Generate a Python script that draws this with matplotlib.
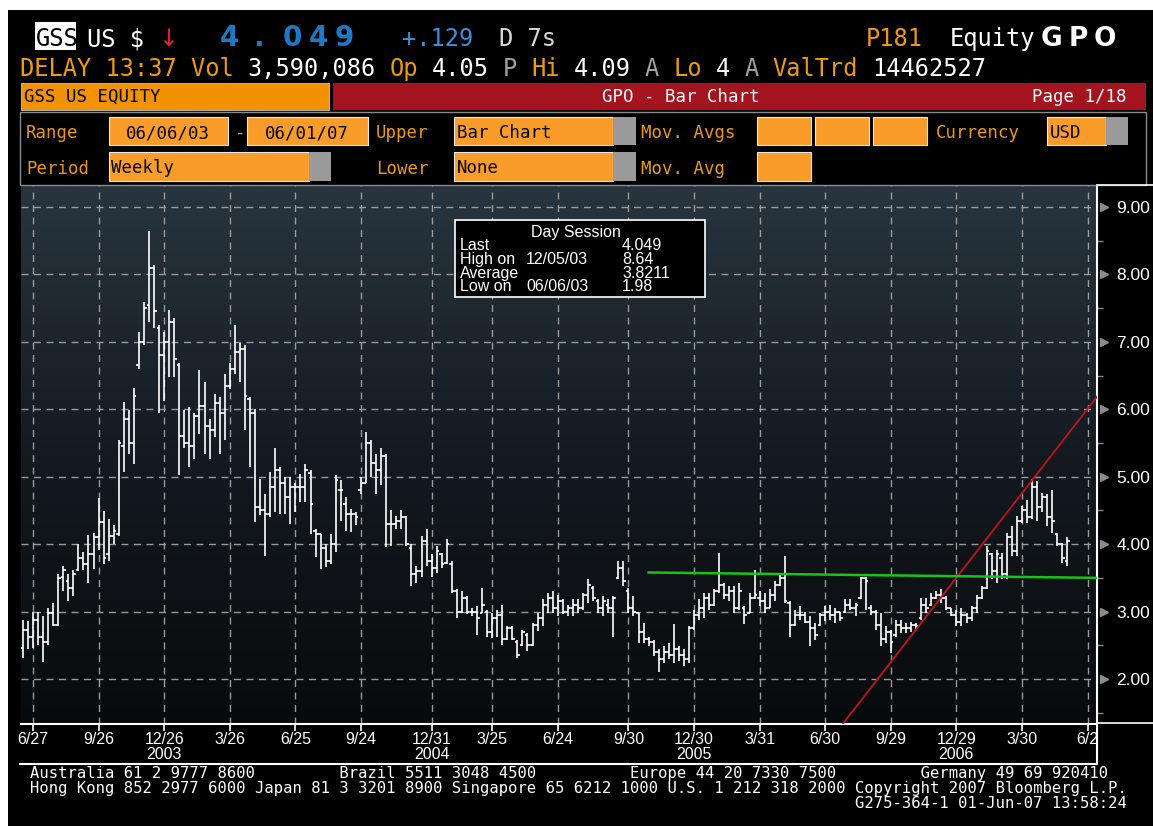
import numpy as np
import pandas as pd
import matplotlib
matplotlib.use('Agg')
import matplotlib.pyplot as plt
import matplotlib.dates as mdates
import matplotlib.transforms as mtransforms
from matplotlib.patches import Rectangle
from matplotlib.lines import Line2D
from matplotlib.colors import LinearSegmentedColormap

W, H = 1153, 826  # output size in pixels

# weekly bars of GSS US, first bar 06/06/03, last bar 06/01/07
week_start = '2003-06-06'
opens = [2.10,
         2.46, 2.72, 2.62, 2.88, 2.62, 2.55, 2.98, 2.80, 3.52, 3.45,
         3.35, 3.62, 3.80, 3.70, 3.85, 4.10, 4.33, 3.85, 4.12, 4.15,
         5.45, 5.85, 5.50, 6.65, 7.00, 7.55, 8.10, 7.20, 6.80, 7.00,
         7.30, 6.65, 5.60, 5.50, 5.45, 5.90, 6.05, 5.75, 5.70, 6.10,
         5.95, 6.35, 6.60, 6.85, 6.90, 6.15, 5.95, 4.55, 4.50, 4.45,
         4.85, 5.10, 4.90, 4.70, 4.85, 4.85, 4.85, 5.05, 4.20, 4.15,
         3.95, 3.75, 4.00, 4.80, 4.60, 4.45, 4.45, 4.80, 4.90, 5.50,
         5.20, 5.10, 5.30, 4.30, 4.30, 4.35, 4.40, 3.95, 3.55, 3.60,
         4.05, 3.75, 3.65, 3.85, 3.72, 3.70, 3.30, 3.00, 3.20, 3.00,
         3.00, 2.98, 3.00, 2.70, 2.90, 2.95, 2.60, 2.75, 2.55, 2.50,
         2.65, 2.50, 2.80, 2.90, 3.10, 3.20, 3.05, 3.15, 3.00, 3.05,
         3.10, 3.05, 3.25, 3.35, 3.15, 3.05, 3.10, 3.05, 3.50, 3.65,
         3.30, 3.05, 2.98, 2.70, 2.60, 2.55, 2.40, 2.30, 2.40, 2.35,
         2.45, 2.35, 2.30, 2.75, 2.95, 3.05, 3.20, 3.10, 3.30, 3.40,
         3.25, 3.30, 3.05, 3.05, 2.98, 3.20, 3.20, 3.15, 3.05, 3.25,
         3.40, 3.50, 3.12, 2.80, 2.95, 2.95, 2.85, 2.75, 2.80, 2.95,
         3.00, 2.95, 3.00, 3.00, 3.10, 3.05, 3.20, 3.50, 3.05, 3.00,
         2.80, 2.60, 2.70, 2.65, 2.80, 2.75, 2.75, 2.80, 2.90, 3.10,
         3.10, 3.20, 3.25, 3.20, 3.05, 2.95, 2.85, 2.95, 2.90, 3.05,
         3.20, 3.35, 3.85, 3.60, 3.80, 3.55, 4.10, 3.90, 4.35, 4.50,
         4.40, 4.85, 4.55, 4.70, 4.40, 4.15, 4.00, 3.75]
highs = [2.45,
         2.88, 2.86, 3.00, 3.00, 2.93, 3.05, 3.13, 3.55, 3.67, 3.55,
         3.62, 4.00, 3.88, 4.14, 4.17, 4.69, 4.49, 4.37, 4.29, 5.55,
         6.11, 5.99, 6.31, 7.15, 7.59, 8.64, 8.14, 7.25, 7.15, 7.47,
         7.35, 6.68, 5.99, 6.03, 5.94, 6.58, 6.41, 5.86, 6.23, 6.18,
         6.53, 6.68, 7.25, 6.98, 6.95, 6.18, 6.01, 4.97, 4.75, 5.07,
         5.42, 5.15, 5.00, 5.00, 4.90, 5.04, 5.19, 5.10, 4.23, 4.15,
         4.00, 4.15, 5.02, 4.95, 4.70, 4.52, 4.48, 5.00, 5.66, 5.54,
         5.34, 5.42, 5.34, 4.51, 4.42, 4.51, 4.42, 4.00, 3.67, 4.12,
         4.22, 3.85, 3.97, 3.87, 4.07, 3.75, 3.33, 3.30, 3.23, 3.05,
         3.08, 3.35, 3.03, 2.98, 3.03, 3.10, 2.78, 2.78, 2.58, 2.73,
         2.68, 2.83, 2.98, 3.18, 3.28, 3.30, 3.25, 3.18, 3.10, 3.18,
         3.18, 3.28, 3.48, 3.38, 3.18, 3.23, 3.18, 3.23, 3.75, 3.75,
         3.35, 3.23, 2.98, 2.83, 2.63, 2.58, 2.44, 2.49, 2.53, 2.81,
         2.49, 2.44, 2.78, 3.03, 3.18, 3.28, 3.28, 3.33, 3.87, 3.43,
         3.38, 3.38, 3.43, 3.08, 3.28, 3.62, 3.30, 3.28, 3.33, 3.45,
         3.57, 3.82, 3.15, 3.03, 3.08, 3.00, 2.93, 2.83, 2.98, 3.08,
         3.10, 3.05, 3.00, 3.18, 3.18, 3.13, 3.52, 3.52, 3.10, 3.03,
         2.98, 2.78, 2.73, 2.88, 2.88, 2.83, 2.85, 2.83, 3.20, 3.20,
         3.28, 3.30, 3.33, 3.23, 3.05, 3.03, 3.05, 2.98, 3.08, 3.25,
         3.38, 3.97, 3.87, 3.92, 3.87, 4.17, 4.27, 4.42, 4.56, 4.66,
         4.96, 4.94, 4.76, 4.74, 4.81, 4.17, 4.02, 4.10]
lows = [1.98,
        2.31, 2.44, 2.46, 2.51, 2.25, 2.50, 2.78, 2.78, 3.30, 3.15,
        3.23, 3.60, 3.62, 3.43, 3.63, 3.92, 3.70, 3.75, 4.00, 4.12,
        5.07, 5.34, 5.19, 6.60, 6.95, 7.30, 7.20, 5.94, 6.13, 6.48,
        6.48, 5.02, 5.42, 5.14, 5.27, 5.64, 5.34, 5.27, 5.59, 5.34,
        5.54, 6.30, 6.53, 6.41, 5.69, 5.14, 4.33, 4.43, 3.83, 4.40,
        4.48, 4.45, 4.45, 4.30, 4.48, 4.62, 4.62, 4.15, 3.81, 3.63,
        3.66, 3.70, 3.88, 4.35, 4.20, 4.18, 4.28, 4.75, 4.90, 5.00,
        4.75, 4.87, 3.96, 3.97, 4.22, 4.22, 3.97, 3.38, 3.43, 3.52,
        3.67, 3.52, 3.57, 3.65, 3.70, 3.28, 2.91, 2.98, 2.96, 2.93,
        2.66, 2.98, 2.63, 2.61, 2.63, 2.51, 2.58, 2.58, 2.31, 2.49,
        2.41, 2.49, 2.71, 2.78, 2.98, 2.98, 2.93, 2.96, 2.93, 2.93,
        2.98, 3.03, 3.13, 3.15, 2.98, 2.93, 2.98, 2.63, 3.48, 3.38,
        2.98, 2.93, 2.53, 2.53, 2.49, 2.34, 2.11, 2.24, 2.29, 2.24,
        2.26, 2.19, 2.24, 2.73, 2.88, 2.91, 3.03, 3.08, 3.28, 3.18,
        3.15, 2.98, 3.03, 2.81, 2.98, 3.18, 3.08, 2.98, 3.05, 3.15,
        3.38, 3.13, 2.63, 2.78, 2.88, 2.83, 2.49, 2.58, 2.78, 2.86,
        2.88, 2.83, 2.86, 2.98, 3.03, 2.93, 3.18, 3.03, 2.95, 2.73,
        2.49, 2.53, 2.39, 2.63, 2.68, 2.68, 2.70, 2.73, 2.88, 2.98,
        3.08, 3.18, 3.13, 3.03, 2.93, 2.78, 2.78, 2.83, 2.86, 2.98,
        3.18, 3.33, 3.48, 3.43, 3.48, 3.48, 3.82, 3.82, 4.32, 4.32,
        4.37, 4.35, 4.47, 4.27, 4.17, 3.97, 3.72, 3.67]
closes = [2.40,
          2.72, 2.62, 2.88, 2.62, 2.55, 2.98, 2.80, 3.50, 3.62, 3.35,
          3.55, 3.80, 3.70, 3.85, 4.10, 4.33, 3.80, 4.12, 4.20, 5.50,
          5.85, 5.50, 6.20, 7.00, 7.50, 8.10, 7.45, 6.80, 7.00, 7.30,
          6.75, 5.60, 5.50, 5.45, 5.90, 6.05, 5.75, 5.70, 6.10, 5.95,
          6.35, 6.60, 6.85, 6.90, 6.20, 5.95, 4.55, 4.50, 4.45, 4.85,
          5.10, 4.90, 4.70, 4.85, 4.85, 4.85, 5.10, 4.60, 4.15, 3.95,
          3.75, 4.00, 4.95, 4.80, 4.45, 4.45, 4.40, 4.90, 5.50, 5.20,
          5.10, 5.30, 4.30, 4.30, 4.35, 4.40, 4.00, 3.55, 3.60, 4.05,
          3.75, 3.65, 3.90, 3.70, 4.00, 3.30, 3.00, 3.20, 3.00, 3.00,
          2.90, 3.10, 2.70, 2.90, 2.95, 2.60, 2.75, 2.60, 2.35, 2.70,
          2.50, 2.80, 2.90, 3.10, 3.20, 3.05, 3.15, 3.00, 3.05, 3.10,
          3.05, 3.25, 3.40, 3.20, 3.05, 3.15, 3.05, 3.20, 3.65, 3.45,
          3.05, 3.00, 2.70, 2.60, 2.55, 2.40, 2.30, 2.40, 2.35, 2.45,
          2.35, 2.30, 2.75, 2.95, 3.05, 3.20, 3.10, 3.30, 3.40, 3.25,
          3.30, 3.05, 3.30, 2.95, 3.20, 3.25, 3.15, 3.05, 3.25, 3.40,
          3.50, 3.15, 2.80, 2.95, 2.95, 2.85, 2.75, 2.65, 2.95, 3.00,
          2.95, 3.00, 2.90, 3.10, 3.05, 3.10, 3.50, 3.45, 3.00, 2.80,
          2.60, 2.70, 2.55, 2.80, 2.75, 2.75, 2.80, 2.78, 3.10, 3.05,
          3.20, 3.25, 3.20, 3.05, 2.95, 2.85, 2.95, 2.90, 3.05, 3.20,
          3.35, 3.90, 3.60, 3.85, 3.55, 4.10, 3.90, 4.35, 4.50, 4.40,
          4.85, 4.55, 4.70, 4.40, 4.35, 4.00, 3.80, 4.05]

# trend lines drawn on the chart (date, price)
red_dates = ['2006-07-24', '2007-07-13']
red_prices = [1.33, 6.20]
green_dates = ['2005-10-28', '2007-07-13']
green_prices = [3.58, 3.50]

# axis ticks
tick_dates = ['2003-06-27', '2003-09-26', '2003-12-26', '2004-03-26', '2004-06-25',
              '2004-09-24', '2004-12-31', '2005-03-25', '2005-06-24', '2005-09-30',
              '2005-12-30', '2006-03-31', '2006-06-30', '2006-09-29', '2006-12-29',
              '2007-03-30', '2007-06-29']
tick_labels = ['6/27', '9/26', '12/26\n2003', '3/26', '6/25', '9/24', '12/31\n2004',
               '3/25', '6/24', '9/30', '12/30\n2005', '3/31', '6/30', '9/29',
               '12/29\n2006', '3/30', '6/2']
price_ticks = [2, 3, 4, 5, 6, 7, 8, 9]

MONO = 'DejaVu Sans Mono'
SANS = 'Liberation Sans'
ORANGE_TXT = '#eb9a12'
ORANGE_BOX = '#fa9c2a'


def fx(x):
    return x / W


def fy(y):
    return 1 - y / H


fig = plt.figure(figsize=(W / 100, H / 100), dpi=100, facecolor='white')


def box(x0, y0, x1, y1, fc, ec='none', lw=0.0, z=1):
    fig.add_artist(Rectangle((fx(x0), fy(y1)), (x1 - x0) / W, (y1 - y0) / H,
                             transform=fig.transFigure, facecolor=fc,
                             edgecolor=ec, linewidth=lw, zorder=z))


def line(xs, ys, color, lw=1.0):
    fig.add_artist(Line2D([fx(x) for x in xs], [fy(y) for y in ys], color=color,
                          linewidth=lw, transform=fig.transFigure, zorder=2))


def txt(x, y, s, color='white', size=17, family=MONO, **kw):
    fig.text(fx(x), fy(y), s, color=color, fontsize=size, family=family,
             va='baseline', **kw)


# black terminal screen
box(8, 10, W, H, 'black', z=-5)

# ---- header line 1 ----
box(35, 22, 76, 50, 'white')
txt(36, 46, 'GSS', color='black')
txt(87, 46, 'US $')
txt(168, 46, '\u2193', color='#e8202a', family='DejaVu Sans', ha='center')
for ch, cx in zip('4.049', [229, 258, 292, 318, 344]):
    txt(cx, 46, ch, color='#1e78c8', size=20, family='DejaVu Sans',
        weight='bold', ha='center')
txt(402, 46, '+.129', color='#3c8fd6')
txt(499, 46, 'D 7s', color='#d8d8d8')
txt(866, 46, 'P181', color=ORANGE_TXT)
txt(950, 46, 'Equity')
for ch, cx in zip('GPO', [1051, 1078, 1105]):
    txt(cx, 46, ch, size=19, family='DejaVu Sans', weight='bold', ha='center')

# ---- header line 2 ----
row2 = [('DELAY 13:37 Vol', ORANGE_TXT, 0), ('3,590,086', 'white', 16),
        ('Op', ORANGE_TXT, 26), ('4.05', 'white', 29), ('P', '#a0a0a0', 34),
        ('Hi', ORANGE_TXT, 36), ('4.09', 'white', 39), ('A', '#a0a0a0', 44),
        ('Lo', ORANGE_TXT, 46), ('4', 'white', 49), ('A', '#a0a0a0', 51),
        ('ValTrd', ORANGE_TXT, 53), ('14462527', 'white', 60)]
for s, c, col in row2:
    txt(20 + 14.2 * col, 76, s, color=c)

# ---- title bar ----
box(21, 83, 329, 110, '#f39200', ec='#b0b0b0', lw=0.8)
txt(24, 102, 'GSS US EQUITY', color='black', size=12.5)
box(333, 83, 1146, 110, '#a3141f')
txt(681, 102, 'GPO - Bar Chart', size=12.5, ha='center')
txt(1126, 102, 'Page 1/18', size=12.5, ha='right')

# ---- control panel ----
box(20, 112, 1146, 185, 'none', ec='#8a8a8a', lw=1.0)
txt(26, 138, 'Range', color=ORANGE_TXT, size=12.5)
box(109, 117, 228, 145, ORANGE_BOX, ec='#e8e8e8', lw=0.8)
txt(168, 138, '06/06/03', color='black', size=12.5, ha='center')
txt(235, 138, '-', color=ORANGE_TXT, size=12.5)
box(247, 117, 368, 145, ORANGE_BOX, ec='#e8e8e8', lw=0.8)
txt(307, 138, '06/01/07', color='black', size=12.5, ha='center')
txt(376, 138, 'Upper', color=ORANGE_TXT, size=12.5)
box(454, 117, 613, 145, ORANGE_BOX, ec='#e8e8e8', lw=0.8)
box(613, 117, 636, 145, '#9a9a9a')
txt(457, 138, 'Bar Chart', color='black', size=12.5)
txt(641, 138, 'Mov. Avgs', color=ORANGE_TXT, size=12.5)
for bx in [757, 815, 873]:
    box(bx, 117, bx + 54, 145, ORANGE_BOX, ec='#e8e8e8', lw=0.8)
txt(936, 138, 'Currency', color=ORANGE_TXT, size=12.5)
box(1047, 117, 1106, 145, ORANGE_BOX, ec='#e8e8e8', lw=0.8)
box(1106, 117, 1128, 145, '#9a9a9a')
txt(1050, 138, 'USD', color='black', size=12.5)

txt(26, 174, 'Period', color=ORANGE_TXT, size=12.5)
box(109, 152, 309, 181, ORANGE_BOX, ec='#e8e8e8', lw=0.8)
box(309, 152, 331, 181, '#9a9a9a')
txt(111, 173, 'Weekly', color='black', size=12.5)
txt(376, 174, 'Lower', color=ORANGE_TXT, size=12.5)
box(454, 152, 613, 181, ORANGE_BOX, ec='#e8e8e8', lw=0.8)
box(613, 152, 636, 181, '#9a9a9a')
txt(457, 173, 'None', color='black', size=12.5)
txt(641, 174, 'Mov. Avg', color=ORANGE_TXT, size=12.5)
box(757, 152, 811, 181, ORANGE_BOX, ec='#e8e8e8', lw=0.8)

# ---- price chart ----
ax = fig.add_axes([fx(21), fy(724), (1097 - 21) / W, (724 - 186) / H])
ax.set_facecolor('none')

d0 = mdates.date2num(pd.Timestamp('2003-06-13'))
xlo, xhi = d0 - 2.6, d0 + 1490
ylo, yhi = 1.333, 9.311

# dark slate gradient behind the bars
grad = LinearSegmentedColormap.from_list('bbg', ['#090a0c', '#141a20', '#28353f'])
ax.imshow(np.linspace(0, 1, 256).reshape(-1, 1), cmap=grad, origin='lower',
          extent=[xlo, xhi, ylo, yhi], aspect='auto', zorder=-1)

dates = mdates.date2num(pd.date_range(week_start, periods=len(closes), freq='7D'))
half = 3.5  # length of open/close ticks in days
ax.vlines(dates, lows, highs, color='white', linewidth=1.2, zorder=3)
ax.hlines(opens, dates - half, dates, color='white', linewidth=1.2, zorder=3)
ax.hlines(closes, dates, dates + half, color='white', linewidth=1.2, zorder=3)

ax.plot(mdates.date2num(pd.to_datetime(red_dates)), red_prices, color='#b3161c',
        linewidth=1.4, zorder=4)
ax.plot(mdates.date2num(pd.to_datetime(green_dates)), green_prices, color='#17c417',
        linewidth=1.8, zorder=4)

ax.set_xlim(xlo, xhi)
ax.set_ylim(ylo, yhi)

ax.set_xticks(mdates.date2num(pd.to_datetime(tick_dates)))
ax.set_xticklabels(tick_labels, linespacing=0.95, family=SANS)
ax.tick_params(axis='x', colors='white', length=5, width=1.2, pad=1, labelsize=11.5)

ax.yaxis.tick_right()
ax.set_yticks(price_ticks)
ax.set_yticklabels(['%.2f' % v for v in price_ticks], family=SANS)
ax.set_yticks(np.arange(1.5, 9.0, 1.0), minor=True)
ax.tick_params(axis='y', which='major', length=0, pad=14, labelcolor='white', labelsize=12.5)
ax.tick_params(axis='y', which='minor', length=4, color='#8c8c8c', width=1)

# little grey pointers in front of the price labels
trans = mtransforms.blended_transform_factory(ax.transAxes, ax.transData)
ax.plot([1.0065] * len(price_ticks), price_ticks, transform=trans, linestyle='none',
        marker='>', markersize=6, color='#8c8c8c', clip_on=False)

ax.grid(True, color='#9a9a9a', linestyle=(0, (5, 4)), linewidth=1.0)
ax.set_axisbelow(True)
for side in ['left', 'top']:
    ax.spines[side].set_visible(False)
for side in ['bottom', 'right']:
    ax.spines[side].set_color('white')
    ax.spines[side].set_linewidth(1.5)

# frame of the date strip and the price panel
line([20, 1097, 1097], [764, 764, 724], 'white', 1.5)
line([1097, W], [185, 185], 'white', 1.2)
line([1097, W], [723, 723], 'white', 1.2)

# ---- Day Session box ----
box(455, 220, 705, 297, 'black', ec='white', lw=1.2, z=5)
fig.text(fx(576), fy(237), 'Day Session', color='white', fontsize=11.5, family=SANS,
         ha='center', va='baseline', zorder=6)
session = [('Last', '', '4.049'), ('High on', '12/05/03', '8.64'),
           ('Average', '', '3.8211'), ('Low on', '06/06/03', '1.98')]
for k, (name, day, val) in enumerate(session):
    yb = 250 + 13.8 * k
    for s, xx in [(name, 460), (day, 526), (val, 622)]:
        fig.text(fx(xx), fy(yb), s, color='white', fontsize=11.5, family=SANS,
                 va='baseline', zorder=6)

# ---- footer ----
foot1 = ('Australia 61 2 9777 8600' + ' ' * 9 + 'Brazil 5511 3048 4500' + ' ' * 10
         + 'Europe 44 20 7330 7500' + ' ' * 9 + 'Germany 49 69 920410')
foot2 = ('Hong Kong 852 2977 6000 Japan 81 3 3201 8900 Singapore 65 6212 1000 '
         'U.S. 1 212 318 2000 Copyright 2007 Bloomberg L.P.')
foot3 = ' ' * 88 + 'G275-364-1 01-Jun-07 13:58:24'
for s, yb in [(foot1, 778), (foot2, 793), (foot3, 808)]:
    txt(30, yb, s, size=11.2)

fig.savefig('out.png', dpi=100, facecolor=fig.get_facecolor())
